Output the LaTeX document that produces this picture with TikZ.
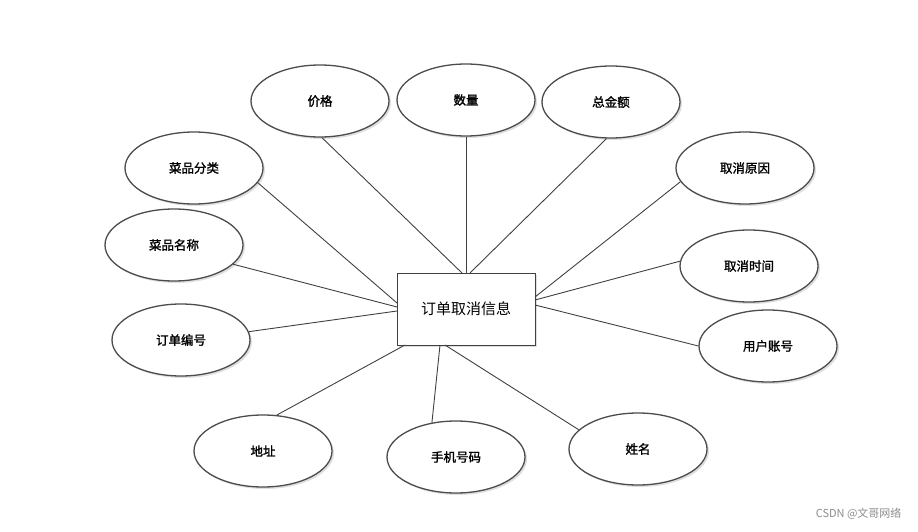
\documentclass[tikz,border=0pt]{standalone}
\usepackage{fontspec}
\setmainfont{Noto Sans CJK SC}
\newfontfamily\cjkb[FakeBold=1.5]{Noto Sans CJK SC}
\usetikzlibrary{shapes.geometric,shadows}
\begin{document}
\begin{tikzpicture}[x=1pt,y=-1pt,
  attr/.style={ellipse,draw=black!70,line width=1.3pt,fill=white,minimum width=138pt,minimum height=72pt,inner sep=0pt,font=\cjkb\fontsize{12.5}{12.5}\selectfont,drop shadow={opacity=0.25,shadow xshift=2pt,shadow yshift=-2pt}},
  link/.style={draw=black!75,line width=0.9pt}]
\useasboundingbox (0,0) rectangle (918,532);
\node[draw=black!75,line width=0.9pt,minimum width=138pt,minimum height=72pt,fill=white,font=\fontsize{15}{15}\selectfont,drop shadow={opacity=0.25,shadow xshift=2pt,shadow yshift=-2pt}] (c) at (466,309) {订单取消信息};
\node[attr] (a1) at (320,101) {价格};
\node[attr] (a2) at (466,100) {数量};
\node[attr] (a3) at (611,102) {总金额};
\node[attr] (a4) at (194,168) {菜品分类};
\node[attr] (a5) at (174,245) {菜品名称};
\node[attr] (a6) at (181,340) {订单编号};
\node[attr] (a7) at (263,451) {地址};
\node[attr] (a8) at (456,457) {手机号码};
\node[attr] (a9) at (638,449) {姓名};
\node[attr] (a10) at (745,168) {取消原因};
\node[attr] (a11) at (749,266) {取消时间};
\node[attr] (a12) at (768,346) {用户账号};
\coordinate (p1) at (462,273);
\coordinate (p2) at (466,273);
\coordinate (p3) at (470,273);
\coordinate (p4) at (397,303);
\coordinate (p5) at (397,307);
\coordinate (p6) at (397,311);
\coordinate (p7) at (405,345);
\coordinate (p8) at (440,345);
\coordinate (p9) at (445,345);
\coordinate (p10) at (535,297);
\coordinate (p11) at (535,300);
\coordinate (p12) at (535,305);
\foreach \i/\a in {1/-87,2/-90,3/-97,4/-13,5/-18,6/7,7/69,8/125,9/162,10/192,11/176,12/180} {\draw[link] (a\i.\a) -- (p\i);}
\node[text=black!45,font=\fontsize{11}{11}\selectfont,anchor=east] (wm) at (905,514) {CSDN @文哥网络};
\end{tikzpicture}
\end{document}
